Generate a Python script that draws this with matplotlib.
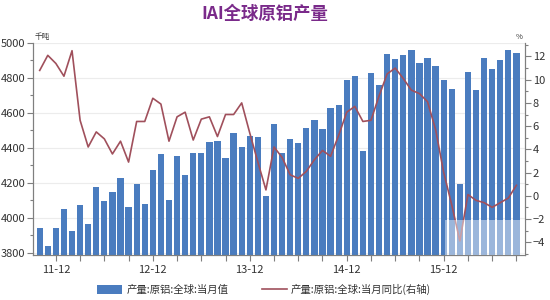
import numpy as np
import matplotlib
matplotlib.use("Agg")
import matplotlib.pyplot as plt
from matplotlib.patches import Rectangle

plt.rcParams["font.family"] = ["Noto Sans CJK SC", "DejaVu Sans"]

# ── Data: monthly, 2011-10 .. 2016-09 ──────────────────────────
output_kt = [3943, 3838, 3939, 4050, 3922, 4074, 3962, 4175, 4097, 4149,
             4225, 4061, 4193, 4078, 4271, 4366, 4103, 4353, 4242, 4372,
             4368, 4431, 4438, 4339, 4486, 4406, 4467, 4463, 4126, 4535,
             4368, 4448, 4425, 4514, 4560, 4507, 4625, 4646, 4787, 4810,
             4383, 4829, 4758, 4934, 4909, 4928, 4960, 4882, 4914, 4867,
             4787, 4737, 4193, 4834, 4730, 4914, 4851, 4903, 4957, 4941]
yoy_pct = [10.8, 12.1, 11.4, 10.3, 12.5, 6.5, 4.2, 5.5, 4.9, 3.6,
           4.7, 2.9, 6.4, 6.4, 8.4, 7.9, 4.7, 6.8, 7.2, 4.8,
           6.6, 6.8, 5.1, 7.0, 7.0, 8.0, 5.4, 2.9, 0.5, 4.2,
           3.3, 1.8, 1.5, 2.1, 3.1, 3.9, 3.4, 5.2, 7.2, 7.7,
           6.4, 6.5, 8.6, 10.5, 11.0, 10.1, 9.1, 8.8, 8.1, 5.7,
           2.0, -0.8, -3.9, 0.1, -0.4, -0.6, -1.0, -0.6, -0.2, 0.9]
tick_labels = ["11-12", "12-12", "13-12", "14-12", "15-12"]
label_idx = [2, 14, 26, 38, 50]

BAR_COLOR = "#4a7cbf"
LINE_COLOR = "#a0505c"
AXIS_COLOR = "#7f7f7f"
TEXT_COLOR = "#333333"

x = np.arange(len(output_kt))

fig = plt.figure(figsize=(5.5, 3.0), dpi=100)
ax = fig.add_axes([0.06, 0.15, 0.8945, 0.7077])
ax2 = ax.twinx()

# ── Bars (left axis) ───────────────────────────────────────────
ax.bar(x, output_kt, width=0.78, color=BAR_COLOR, zorder=2,
       label="产量:原铝:全球:当月值")
ax.set_ylim(3787, 5000)
ax.set_xlim(-0.83, 60.06)
ax.set_yticks(np.arange(3800, 5001, 200))
ax.set_yticks(np.arange(3800, 5001, 100), minor=True)
ax.grid(axis="y", color="#ececec", lw=0.8, zorder=0)
ax.set_axisbelow(True)

ax.set_xticks(np.arange(2, 60, 3))
ax.set_xticklabels([tick_labels[label_idx.index(i)] if i in label_idx else ""
                    for i in range(2, 60, 3)])

# ── Line (right axis) ──────────────────────────────────────────
ax2.plot(x, yoy_pct, color=LINE_COLOR, lw=1.2, zorder=3,
         label="产量:原铝:全球:当月同比(右轴)")
ax2.set_ylim(-5.11, 13.19)
ax2.set_yticks(np.arange(-4, 13, 2))
ax2.set_yticks(np.arange(-5, 14, 1), minor=True)

for a in (ax, ax2):
    a.spines["top"].set_visible(False)
    for side in ("left", "right", "bottom"):
        a.spines[side].set_color(AXIS_COLOR)
        a.spines[side].set_linewidth(0.8)
    a.tick_params(which="both", direction="out", color=AXIS_COLOR,
                  labelsize=8, labelcolor=TEXT_COLOR, width=0.8)
    a.tick_params(which="major", length=4, pad=1.5)
    a.tick_params(which="minor", length=2.5)
ax.tick_params(axis="x", length=4, pad=3)

# units
fig.text(0.063, 0.862, "千吨", fontsize=5.5, color=TEXT_COLOR,
         ha="left", va="bottom")
fig.text(0.951, 0.862, "%", fontsize=5.5, color=TEXT_COLOR,
         ha="right", va="bottom")

# faint watermark box at lower right
ax2.add_patch(Rectangle((0.838, 0.0), 0.162, 0.165, transform=ax2.transAxes,
                        facecolor="white", alpha=0.45, lw=0, zorder=4))

# ── Title + legend ─────────────────────────────────────────────
fig.text(0.482, 0.953, "IAI全球原铝产量", fontsize=12.5, fontweight="bold",
         color="#7a2a8a", ha="center", va="center")

h1, l1 = ax.get_legend_handles_labels()
h2, l2 = ax2.get_legend_handles_labels()
fig.legend(h1 + h2, l1 + l2, loc="center", bbox_to_anchor=(0.48, 0.035),
           ncol=2, frameon=False, fontsize=7.5, columnspacing=3.2,
           handlelength=2.4, handleheight=1.0, handletextpad=0.4,
           labelcolor=TEXT_COLOR)

plt.savefig("out.png", dpi=100)
plt.close()
